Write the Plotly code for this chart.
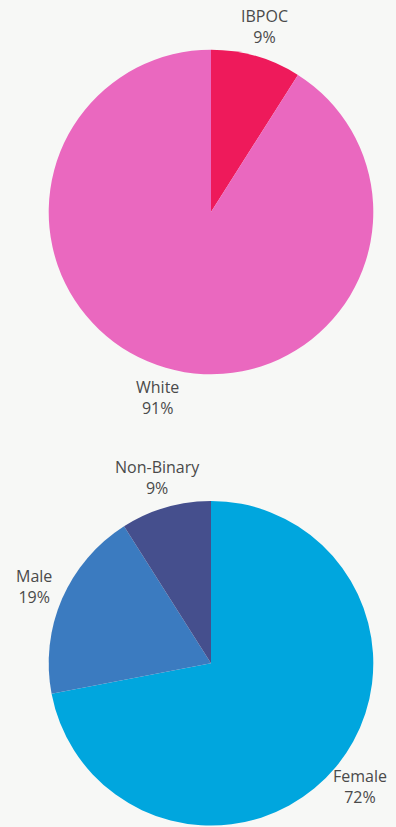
import math
import plotly.graph_objects as go

# Ethnicity breakdown
eth_labels = ["IBPOC", "White"]
eth_values = [9, 91]
eth_colors = ["#ee1a5b", "#ea68bf"]

# Gender breakdown
gen_labels = ["Female", "Male", "Non-Binary"]
gen_values = [72, 19, 9]
gen_colors = ["#00a6de", "#3b7bc0", "#454f8d"]

W, H = 396, 827
BG = "#f7f8f6"
TEXT_COLOR = "#4a4a4a"
LABEL_GAP = 31  # distance of label centres beyond the pie rim, px

# Pie boxes in pixels: (left, top, diameter)
PIE_BOXES = [(48.7, 49.7, 324.6), (48.7, 501.0, 324.6)]


def px_domain(left, top, size):
    """Convert a pixel box (from top-left) into a paper-coordinate domain."""
    return dict(x=[left / W, (left + size) / W],
                y=[(H - top - size) / H, (H - top) / H])


def slice_labels(labels, values, box):
    """Annotations placed outside each slice, at the slice's mid-angle
    (clockwise from 12 o'clock, matching the pie's direction)."""
    left, top, size = box
    cx, cy, r = left + size / 2, top + size / 2, size / 2
    total = sum(values)
    anns, cum = [], 0.0
    for lab, val in zip(labels, values):
        mid = (cum + val / 2) / total * 2 * math.pi
        cum += val
        x = cx + (r + LABEL_GAP) * math.sin(mid)
        y = cy - (r + LABEL_GAP) * math.cos(mid)
        anns.append(dict(
            x=x / W, y=1 - y / H, xref="paper", yref="paper",
            text=f"{lab}<br>{round(val / total * 100)}%",
            showarrow=False, xanchor="center", yanchor="middle",
            font=dict(family="Open Sans", size=16, color=TEXT_COLOR),
        ))
    return anns


fig = go.Figure()

for labels, values, colors, box in (
    (eth_labels, eth_values, eth_colors, PIE_BOXES[0]),
    (gen_labels, gen_values, gen_colors, PIE_BOXES[1]),
):
    fig.add_trace(go.Pie(
        labels=labels,
        values=values,
        marker=dict(colors=colors, line=dict(width=0)),
        sort=False,
        direction="clockwise",
        rotation=0,
        textinfo="none",
        hoverinfo="label+percent",
        showlegend=False,
        domain=px_domain(*box),
    ))

annotations = (slice_labels(eth_labels, eth_values, PIE_BOXES[0])
               + slice_labels(gen_labels, gen_values, PIE_BOXES[1]))

fig.update_layout(
    width=W,
    height=H,
    margin=dict(l=0, r=0, t=0, b=0),
    paper_bgcolor=BG,
    plot_bgcolor=BG,
    showlegend=False,
    annotations=annotations,
)

fig.write_html("out.html", config={"displayModeBar": False})
